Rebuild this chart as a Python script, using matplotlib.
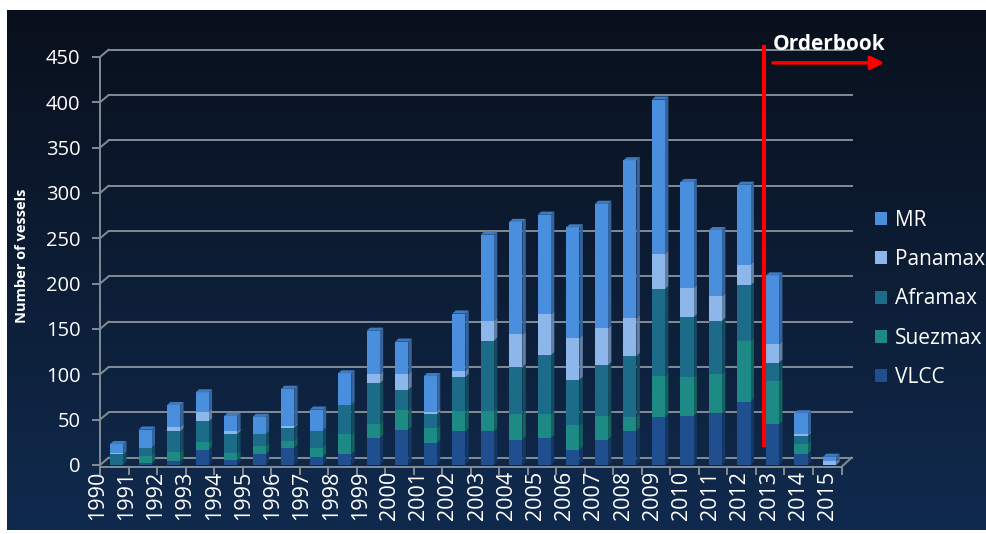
import numpy as np
import matplotlib
matplotlib.use('Agg')
import matplotlib.pyplot as plt
from matplotlib.colors import to_rgb
from matplotlib.patches import Polygon, Patch

plt.rcParams['font.family'] = ['Open Sans', 'DejaVu Sans']

# Tanker newbuilding deliveries per year (2013 onwards = orderbook)
years = [str(y) for y in range(1990, 2016)]
vlcc = [0, 2, 4, 17, 5, 12, 19, 9, 12, 30, 39, 24, 37, 37, 28, 30, 17, 28, 38, 53, 54, 57, 70, 45, 12, 0]
suezmax = [0, 8, 10, 8, 8, 9, 8, 10, 22, 15, 22, 17, 23, 23, 28, 26, 27, 26, 15, 45, 43, 43, 67, 48, 11, 0]
aframax = [12, 9, 23, 23, 21, 13, 14, 19, 32, 45, 22, 15, 37, 77, 52, 65, 50, 56, 67, 96, 66, 59, 61, 20, 9, 0]
panamax = [1, 0, 5, 11, 3, 0, 2, 0, 0, 10, 17, 3, 7, 22, 36, 45, 46, 41, 42, 39, 32, 27, 23, 20, 2, 4]
mr = [10, 20, 24, 21, 17, 19, 41, 23, 35, 48, 36, 39, 63, 95, 124, 110, 122, 137, 174, 170, 117, 73, 88, 76, 23, 5]

series = [
    ('VLCC', vlcc, '#1f4f8f'),
    ('Suezmax', suezmax, '#1e8a85'),
    ('Aframax', aframax, '#1c6b89'),
    ('Panamax', panamax, '#8db6ea'),
    ('MR', mr, '#4a8fdd'),
]

W, H = 987, 534
BAR_W = 0.46
BAR_DX, BAR_DY = 0.12, 3.5      # depth of each column
WALL_DX, WALL_DY = 0.3, 8.0     # offset of the back wall
FLOOR_Y = -2.0
LINE_GREY = '#828c96'


def shade(color, f):
    return tuple(np.clip(np.array(to_rgb(color)) * f, 0, 1))


def draw_background(fig):
    bg = fig.add_axes([7 / W, 4 / H, 1 - 7 / W, 1 - 14 / H], zorder=-10)
    top = np.array([9, 16, 28]) / 255
    bot = np.array([16, 42, 78]) / 255
    t = np.linspace(0, 1, 256)[:, None]
    grad = (top * (1 - t) + bot * t)[:, None, :]
    bg.imshow(grad, aspect='auto', extent=[0, 1, 0, 1])
    bg.set_axis_off()


def draw_grid(ax, n):
    grid_kw = dict(color=LINE_GREY, linewidth=1.4, zorder=1, clip_on=False)
    for v in range(0, 451, 50):
        ax.plot([-0.5, -0.5 + WALL_DX], [v, v + WALL_DY], **grid_kw)
        ax.plot([-0.5 + WALL_DX, n - 0.5 + WALL_DX + 0.05], [v + WALL_DY, v + WALL_DY], **grid_kw)
    ax.plot([n - 0.5, n - 0.5 + WALL_DX + 0.05], [FLOOR_Y, WALL_DY], **grid_kw)


def draw_columns(ax, n):
    x = np.arange(n) + 0.08
    bottoms = np.zeros(n)
    totals = np.sum([s[1] for s in series], axis=0)
    for name, vals, color in series:
        vals = np.array(vals, dtype=float)
        ax.bar(x, vals, width=BAR_W, bottom=bottoms, color=color, zorder=3, linewidth=0)
        for i in range(n):
            if vals[i] <= 0:
                continue
            xr = x[i] + BAR_W / 2
            y0, y1 = bottoms[i], bottoms[i] + vals[i]
            side = [(xr, y0), (xr, y1), (xr + BAR_DX, y1 + BAR_DY), (xr + BAR_DX, y0 + BAR_DY)]
            ax.add_patch(Polygon(side, closed=True, color=shade(color, 0.7), zorder=2.9, linewidth=0))
            if np.isclose(y1, totals[i]):
                xl = x[i] - BAR_W / 2
                lid = [(xl, y1), (xr, y1), (xr + BAR_DX, y1 + BAR_DY), (xl + BAR_DX, y1 + BAR_DY)]
                ax.add_patch(Polygon(lid, closed=True, color=shade(color, 0.85), zorder=3.1, linewidth=0))
        bottoms += vals


def main():
    fig = plt.figure(figsize=(W / 100, H / 100), dpi=100)
    fig.patch.set_facecolor('white')
    draw_background(fig)

    n = len(years)
    px_x0, px_dx = 114.26, 28.52
    px_y0, px_dy = 465.0, 0.9067
    L, R, B, T = 90, 870, 480, 40
    ax = fig.add_axes([L / W, 1 - B / H, (R - L) / W, (B - T) / H])
    ax.set_xlim((L - px_x0) / px_dx, (R - px_x0) / px_dx)
    ax.set_ylim((px_y0 - B) / px_dy, (px_y0 - T) / px_dy)
    ax.patch.set_alpha(0)

    draw_grid(ax, n)
    draw_columns(ax, n)

    # axes lines
    for s in ['top', 'right']:
        ax.spines[s].set_visible(False)
    ax.spines['left'].set_position(('data', -0.5))
    ax.spines['left'].set_bounds(FLOOR_Y, 450)
    ax.spines['bottom'].set_position(('data', FLOOR_Y))
    ax.spines['bottom'].set_bounds(-0.5, n - 0.5)
    for s in ['left', 'bottom']:
        ax.spines[s].set_color(LINE_GREY)
        ax.spines[s].set_linewidth(1.4)

    ax.set_yticks(range(0, 451, 50))
    ax.tick_params(axis='y', colors=LINE_GREY, length=6, width=1.4, pad=8,
                   labelcolor='white', labelsize=14.5)

    ax.set_xticks(np.arange(n + 1) - 0.5)
    ax.set_xticklabels([])
    ax.tick_params(axis='x', which='major', colors=LINE_GREY, length=6, width=1.4)
    ax.set_xticks(np.arange(n) * 1.024 - 0.59, minor=True)
    ax.set_xticklabels(years, minor=True, rotation=90, color='white', fontsize=15.5)
    ax.tick_params(axis='x', which='minor', length=0, pad=3)

    fig.text(22 / W, 1 - 256 / H, 'Number of vessels', rotation=90, color='white',
             fontsize=10.5, fontweight='bold', ha='center', va='center')

    # orderbook marker
    ax.plot([22.78, 22.78], [22, 461], color='#ff0000', linewidth=3, zorder=6, clip_on=False)
    ax.annotate('', xy=(27.1, 443.5), xytext=(23.0, 443.5), annotation_clip=False,
                arrowprops=dict(arrowstyle='-|>', color='#ff0000', lw=2.5,
                                mutation_scale=20), zorder=6)
    ax.text(23.1, 464, 'Orderbook', color='white', fontsize=15, fontweight='bold',
            ha='left', va='center', zorder=6, clip_on=False)

    handles = [Patch(facecolor=c, label=nm) for nm, _, c in series][::-1]
    fig.legend(handles=handles, loc='center left', bbox_to_anchor=(875 / W, 1 - 299 / H),
               frameon=False, fontsize=15, labelcolor='white', borderpad=0, borderaxespad=0,
               handlelength=0.6, handleheight=0.6, handletextpad=0.35, labelspacing=0.88)

    fig.savefig('out.png', dpi=100, facecolor='white')
    plt.close(fig)


if __name__ == '__main__':
    main()
